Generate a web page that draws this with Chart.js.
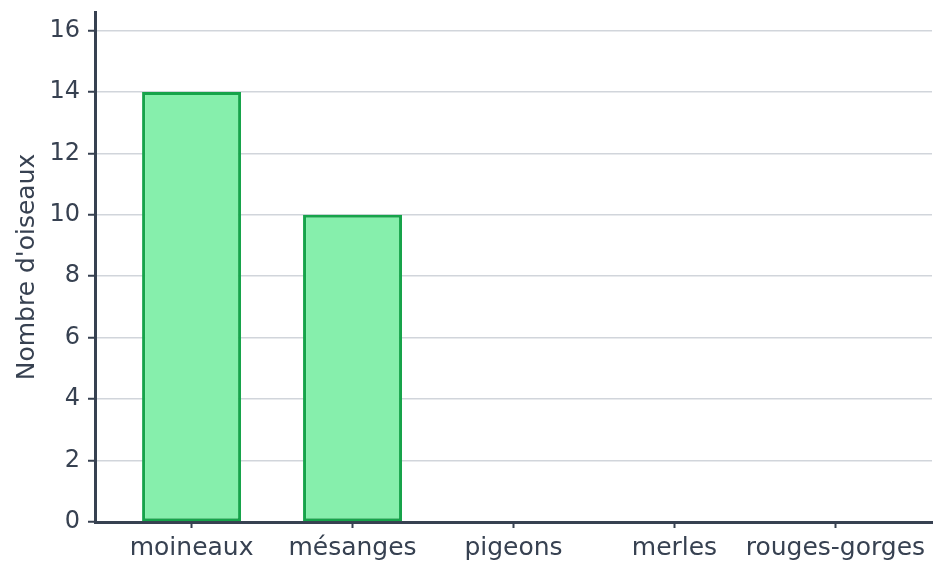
<!DOCTYPE html>
<html>
<head>
<meta charset="utf-8">
<script src="https://cdn.jsdelivr.net/npm/chart.js@4/dist/chart.umd.min.js"></script>
<style>
  html, body { margin: 0; padding: 0; background: #fff; }
  #wrap { width: 946px; height: 578px; }
</style>
</head>
<body>
<div id="wrap"><canvas id="birdChart"></canvas></div>
<script>
const categories = ['moineaux', 'mésanges', 'pigeons', 'merles', 'rouges-gorges'];
const birdCounts = [14, 10, 0, 0, 0];
const yTicks = [0, 2, 4, 6, 8, 10, 12, 14, 16];

const textColor = '#374151';
const axisColor = '#374151';
const gridColor = '#d1d5db';

Chart.defaults.font.family = "'DejaVu Sans', sans-serif";
Chart.defaults.font.size = 25;
Chart.defaults.color = textColor;

const points = categories.map((c, i) => ({ x: i, y: birdCounts[i] }));

function initChart() {
    const ctx = document.getElementById('birdChart').getContext('2d');

    new Chart(ctx, {
        type: 'bar',
        data: {
            datasets: [{
                label: "Nombre d'oiseaux",
                data: points,
                backgroundColor: '#86efac',
                borderColor: '#16a34a',
                borderWidth: 3,
                borderSkipped: false,
                barPercentage: 0.615,
                categoryPercentage: 1
            }]
        },
        options: {
            responsive: true,
            maintainAspectRatio: false,
            animation: false,
            layout: {
                padding: { top: 12, right: 14, left: 0, bottom: 0 }
            },
            plugins: {
                legend: { display: false },
                tooltip: { enabled: false }
            },
            scales: {
                x: {
                    type: 'linear',
                    offset: false,
                    min: -0.6,
                    max: 4.6,
                    afterBuildTicks: axis => {
                        axis.ticks = categories.map((c, i) => ({ value: i }));
                    },
                    afterFit: scale => {
                        scale.height = 56;
                        scale.paddingLeft = 0;
                        scale.paddingRight = 0;
                    },
                    ticks: {
                        autoSkip: false,
                        maxRotation: 0,
                        padding: 5,
                        callback: v => categories[v]
                    },
                    grid: {
                        offset: false,
                        drawOnChartArea: false,
                        tickColor: axisColor,
                        tickLength: 6,
                        tickWidth: 2
                    },
                    border: { color: axisColor, width: 3 }
                },
                y: {
                    min: 0,
                    max: 16.6,
                    afterBuildTicks: axis => {
                        axis.ticks = yTicks.map(v => ({ value: v }));
                    },
                    afterFit: scale => {
                        scale.width = 95;
                        scale.paddingTop = 0;
                        scale.paddingBottom = 0;
                    },
                    ticks: { padding: 8, font: { size: 24 } },
                    title: {
                        display: true,
                        text: "Nombre d'oiseaux",
                        padding: { top: 12, bottom: 0 }
                    },
                    grid: {
                        color: gridColor,
                        lineWidth: 1.5,
                        tickColor: axisColor,
                        tickLength: 7,
                        tickWidth: 2
                    },
                    border: { color: axisColor, width: 3 }
                }
            }
        }
    });
}

initChart();
</script>
</body>
</html>
